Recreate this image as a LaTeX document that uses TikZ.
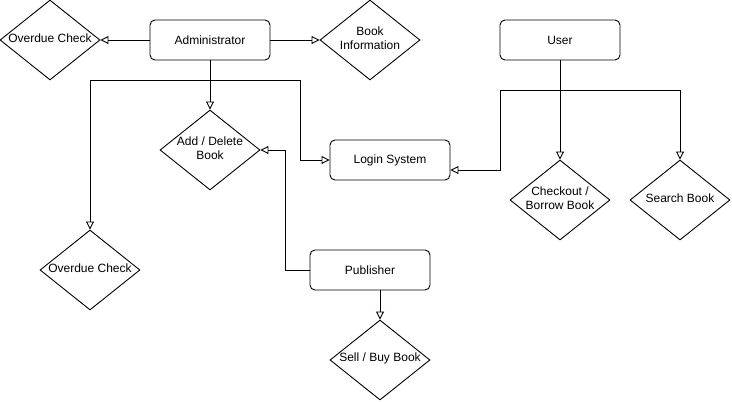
\documentclass[tikz,border=0pt]{standalone}
\usepackage{fontspec}
\setmainfont{Liberation Sans}
\usetikzlibrary{shapes.geometric,arrows.meta}
\begin{document}
\begin{tikzpicture}[x=1pt,y=-1pt,
  box/.style={draw,rounded corners=5pt,minimum width=120pt,minimum height=40pt,inner sep=0pt,line width=0.9pt,font=\fontsize{12pt}{14pt}\selectfont},
  dia/.style={draw,shape=diamond,minimum width=100pt,minimum height=80pt,inner sep=0pt,line width=0.9pt},
  txt/.style={align=center,inner sep=0pt,font=\fontsize{12pt}{14pt}\selectfont},
  conn/.style={line width=0.9pt},
  arr/.style={conn,-{Triangle[open,length=8pt,width=8pt]}}]
\useasboundingbox[fill=white] (0,0) rectangle (732,402);
% rounded boxes
\node[box] (admin) at (210,40) {Administrator};
\node[box] (user) at (560,40) {User};
\node[box] (login) at (390,160) {Login System};
\node[box] (pub) at (370,270) {Publisher};
% diamonds
\node[dia] (od1) at (50,40) {};
\node[dia] (binfo) at (370,40) {};
\node[dia] (adddel) at (210,150) {};
\node[dia] (chk) at (560,200) {};
\node[dia] (search) at (680,200) {};
\node[dia] (od2) at (90,270) {};
\node[dia] (sell) at (380,360) {};
% diamond texts
\node[txt] (od1t) at ([yshift=2pt]od1.center) {Overdue Check};
\node[txt] (binfot) at ([yshift=2pt]binfo.center) {Book\\Information};
\node[txt] (adddelt) at ([yshift=2pt]adddel.center) {Add / Delete\\Book};
\node[txt] (chkt) at ([yshift=2pt]chk.center) {Checkout /\\Borrow Book};
\node[txt] (searcht) at ([yshift=2pt]search.center) {Search Book};
\node[txt] (od2t) at ([yshift=2pt]od2.center) {Overdue Check};
\node[txt] (sellt) at ([yshift=2pt]sell.center) {Sell / Buy Book};
% junctions
\coordinate (ja) at (210,80);
\coordinate (ju) at (560,90);
\coordinate (loginr) at ([yshift=-10pt]login.east);
% connectors
\draw[arr] (admin.west) -- (od1.east);
\draw[arr] (admin.east) -- (binfo.west);
\draw[arr] (admin.south) -- (adddel.north);
\draw[arr] (ja) -| (od2.north);
\draw[arr] (ja) -- (300,80) |- (login.west);
\draw[arr] (user.south) -- (chk.north);
\draw[arr] (ju) -| (search.north);
\draw[arr] (ju) -- (500,90) |- (loginr);
\draw[arr] (pub.west) -- (285,270) |- (adddel.east);
\draw[arr] (sell.north |- pub.south) -- (sell.north);
\end{tikzpicture}
\end{document}
